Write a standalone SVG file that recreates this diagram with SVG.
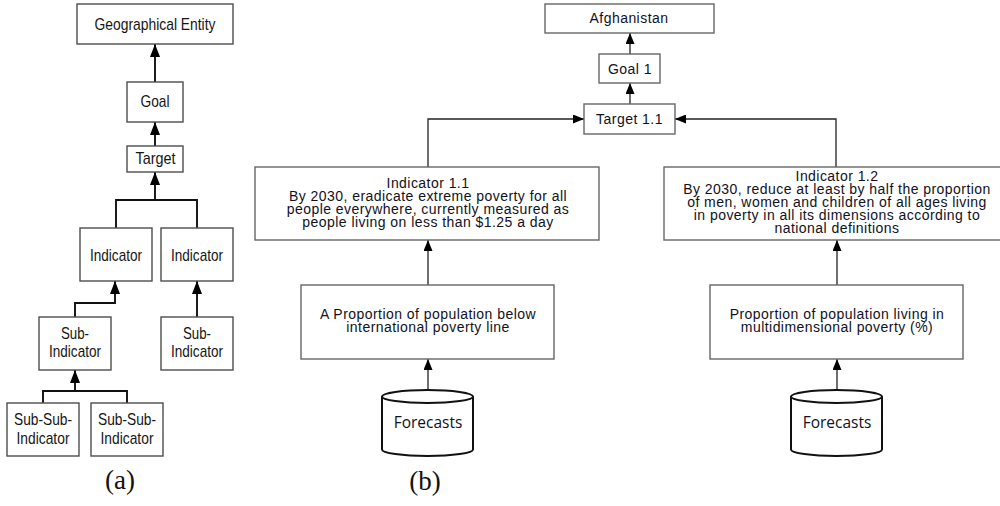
<svg xmlns="http://www.w3.org/2000/svg" width="1000" height="506" viewBox="0 0 1000 506">
  <style>
    .box { fill: #ffffff; stroke: #4d4d4d; stroke-width: 1.4; }
    .boxb { fill: #ffffff; stroke: #666666; stroke-width: 1.4; }
    .lbl { font-family: "Liberation Sans", Arial, sans-serif; font-size: 17px; fill: #151515; text-anchor: middle; }
    .lblb { font-family: "Liberation Sans", Arial, sans-serif; font-size: 14px; letter-spacing: 0.45px; fill: #111122; text-anchor: middle; }
    .db { font-family: "Open Sans", "Noto Sans", sans-serif; font-size: 15.5px; fill: #111122; text-anchor: middle; }
    .cap { font-family: "Liberation Serif", "DejaVu Serif", serif; font-size: 27px; fill: #111111; text-anchor: middle; }
    .ca { fill: none; stroke: #111111; stroke-width: 1.9; }
    .cb { fill: none; stroke: #222222; stroke-width: 1.3; }
    .cyl { fill: #ffffff; stroke: #111111; stroke-width: 2; }
  </style>
  <defs>
    <marker id="headA" viewBox="0 0 13 10" refX="13" refY="5" markerWidth="13" markerHeight="10" markerUnits="userSpaceOnUse" orient="auto">
      <path d="M0,0 L13,5 L0,10 Z" fill="#000000"/>
    </marker>
    <marker id="headB" viewBox="0 0 11 9" refX="11" refY="4.5" markerWidth="11" markerHeight="9" markerUnits="userSpaceOnUse" orient="auto">
      <path d="M0,0 L11,4.5 L0,9 Z" fill="#000000"/>
    </marker>
  </defs>

  <!-- (a) generic hierarchy -->
  <g id="connectors-a">
    <path class="ca" d="M155,82 L155,44" marker-end="url(#headA)"/>
    <path class="ca" d="M155,146 L155,122" marker-end="url(#headA)"/>
    <path class="ca" d="M116,228 L116,200 L197,200 L197,228"/>
    <path class="ca" d="M155,200 L155,172" marker-end="url(#headA)"/>
    <path class="ca" d="M75,317 L75,303 L115,303 L115,281" marker-end="url(#headA)"/>
    <path class="ca" d="M197,317 L197,281" marker-end="url(#headA)"/>
    <path class="ca" d="M43,403 L43,391 L127,391 L127,403"/>
    <path class="ca" d="M75,391 L75,370" marker-end="url(#headA)"/>
  </g>

  <g id="geo-entity">
    <rect class="box" x="77" y="4" width="156" height="40"/>
    <text class="lbl" x="155" y="29.5" textLength="121" lengthAdjust="spacingAndGlyphs">Geographical Entity</text>
  </g>
  <g id="goal">
    <rect class="box" x="127" y="82" width="56" height="40"/>
    <text class="lbl" x="155" y="106.5" textLength="29" lengthAdjust="spacingAndGlyphs">Goal</text>
  </g>
  <g id="target">
    <rect class="box" x="127" y="146" width="56" height="26"/>
    <text class="lbl" x="155.5" y="164" textLength="40" lengthAdjust="spacingAndGlyphs">Target</text>
  </g>
  <g id="indicator-a1">
    <rect class="box" x="80" y="228" width="72" height="53"/>
    <text class="lbl" x="116" y="261" textLength="52" lengthAdjust="spacingAndGlyphs">Indicator</text>
  </g>
  <g id="indicator-a2">
    <rect class="box" x="161" y="228" width="72" height="53"/>
    <text class="lbl" x="197" y="261" textLength="52" lengthAdjust="spacingAndGlyphs">Indicator</text>
  </g>
  <g id="sub-indicator-a1">
    <rect class="box" x="39" y="317" width="72" height="53"/>
    <text class="lbl"><tspan x="75" y="339" textLength="28" lengthAdjust="spacingAndGlyphs">Sub-</tspan><tspan x="75" y="357" textLength="52" lengthAdjust="spacingAndGlyphs">Indicator</tspan></text>
  </g>
  <g id="sub-indicator-a2">
    <rect class="box" x="161" y="317" width="72" height="53"/>
    <text class="lbl"><tspan x="197" y="339" textLength="28" lengthAdjust="spacingAndGlyphs">Sub-</tspan><tspan x="197" y="357" textLength="52" lengthAdjust="spacingAndGlyphs">Indicator</tspan></text>
  </g>
  <g id="sub-sub-indicator-a1">
    <rect class="box" x="7" y="403" width="72" height="53"/>
    <text class="lbl"><tspan x="43" y="425" textLength="58" lengthAdjust="spacingAndGlyphs">Sub-Sub-</tspan><tspan x="43" y="444" textLength="53" lengthAdjust="spacingAndGlyphs">Indicator</tspan></text>
  </g>
  <g id="sub-sub-indicator-a2">
    <rect class="box" x="91" y="403" width="72" height="53"/>
    <text class="lbl"><tspan x="127" y="425" textLength="58" lengthAdjust="spacingAndGlyphs">Sub-Sub-</tspan><tspan x="127" y="444" textLength="53" lengthAdjust="spacingAndGlyphs">Indicator</tspan></text>
  </g>
  <text class="cap" x="120" y="489">(a)</text>

  <!-- (b) Afghanistan example -->
  <g id="connectors-b">
    <path class="cb" d="M630,54 L630,33" marker-end="url(#headB)"/>
    <path class="cb" d="M630,104 L630,83" marker-end="url(#headB)"/>
    <path class="cb" d="M428,167 L428,119 L584,119" marker-end="url(#headB)"/>
    <path class="cb" d="M836,167 L836,119 L675,119" marker-end="url(#headB)"/>
    <path class="cb" d="M428,285 L428,240" marker-end="url(#headB)"/>
    <path class="cb" d="M837,285 L837,240" marker-end="url(#headB)"/>
    <path class="cb" d="M428,390 L428,359" marker-end="url(#headB)"/>
    <path class="cb" d="M837,390 L837,359" marker-end="url(#headB)"/>
  </g>

  <g id="afghanistan">
    <rect class="boxb" x="545" y="4" width="169" height="29"/>
    <text class="lblb" x="629" y="22.5">Afghanistan</text>
  </g>
  <g id="goal-1">
    <rect class="boxb" x="599" y="54" width="61" height="29"/>
    <text class="lblb" x="630" y="73.5">Goal 1</text>
  </g>
  <g id="target-1-1">
    <rect class="boxb" x="584" y="104" width="91" height="30"/>
    <text class="lblb" x="629.5" y="124">Target 1.1</text>
  </g>
  <g id="indicator-1-1">
    <rect class="boxb" x="255" y="167" width="344" height="73"/>
    <text class="lblb"><tspan x="428" y="188">Indicator 1.1</tspan><tspan x="428" y="201">By 2030, eradicate extreme poverty for all</tspan><tspan x="428" y="214">people everywhere, currently measured as</tspan><tspan x="428" y="227">people living on less than $1.25 a day</tspan></text>
  </g>
  <g id="indicator-1-2">
    <rect class="boxb" x="664" y="167" width="346" height="73"/>
    <text class="lblb"><tspan x="837" y="181">Indicator 1.2</tspan><tspan x="837" y="194">By 2030, reduce at least by half the proportion</tspan><tspan x="837" y="207">of men, women and children of all ages living</tspan><tspan x="837" y="220">in poverty in all its dimensions according to</tspan><tspan x="837" y="233">national definitions</tspan></text>
  </g>
  <g id="proportion-below-line">
    <rect class="boxb" x="301" y="285" width="253" height="74"/>
    <text class="lblb"><tspan x="428" y="319">A Proportion of population below</tspan><tspan x="428" y="332">international poverty line</tspan></text>
  </g>
  <g id="proportion-multidimensional">
    <rect class="boxb" x="710" y="285" width="253" height="74"/>
    <text class="lblb"><tspan x="837" y="319">Proportion of population living in</tspan><tspan x="837" y="332">multidimensional poverty (%)</tspan></text>
  </g>
  <g id="forecasts-1">
    <path class="cyl" d="M382,396.5 L382,449.5 A45.5,6.5 0 0 0 473,449.5 L473,396.5"/>
    <ellipse class="cyl" cx="427.5" cy="396.5" rx="45.5" ry="6.5"/>
    <text class="db" x="428" y="427.5">Forecasts</text>
  </g>
  <g id="forecasts-2">
    <path class="cyl" d="M791,396.5 L791,449.5 A45.5,6.5 0 0 0 882,449.5 L882,396.5"/>
    <ellipse class="cyl" cx="836.5" cy="396.5" rx="45.5" ry="6.5"/>
    <text class="db" x="837" y="427.5">Forecasts</text>
  </g>
  <text class="cap" x="425" y="490">(b)</text>
</svg>
